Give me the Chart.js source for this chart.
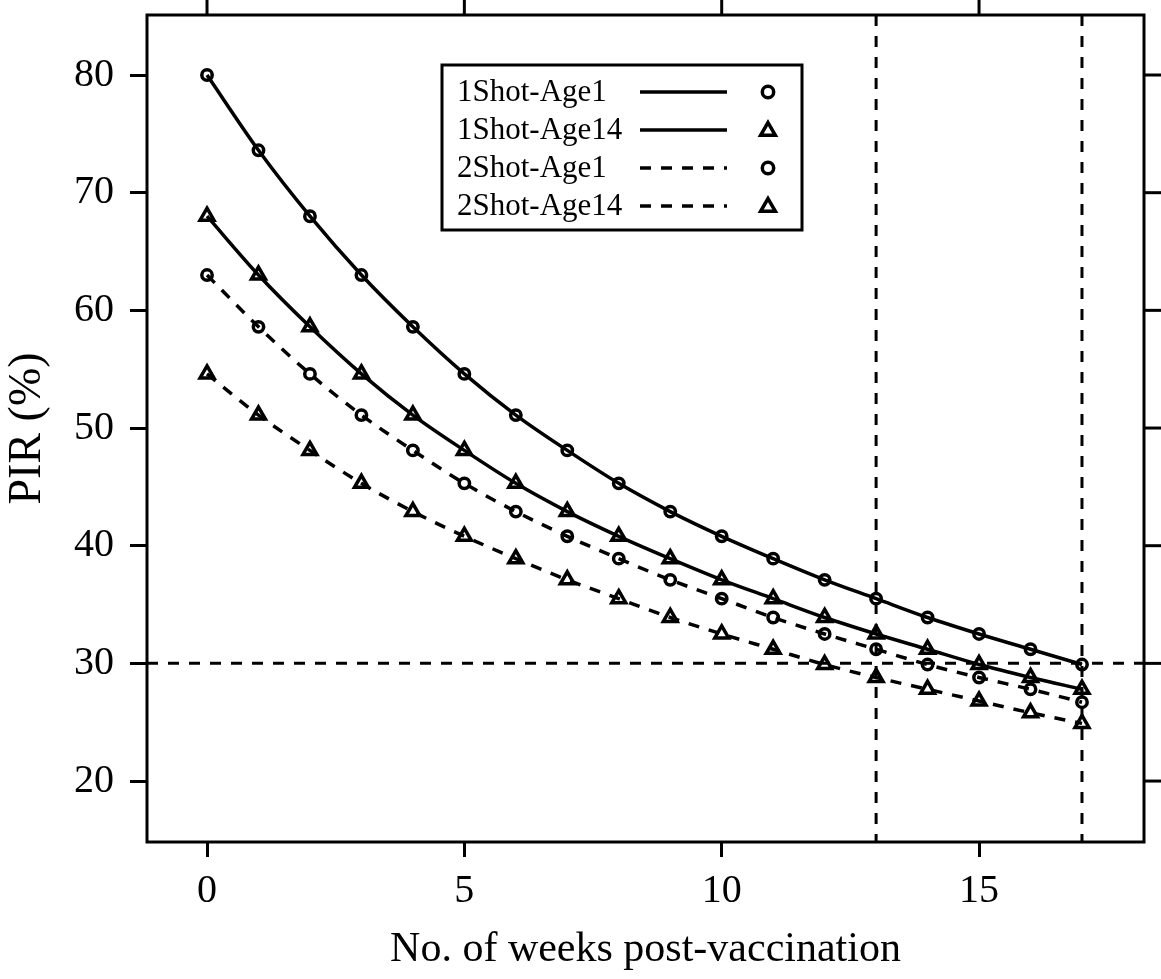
<!DOCTYPE html>
<html>
<head>
<meta charset="utf-8">
<script src="https://cdn.jsdelivr.net/npm/chart.js"></script>
<style>
  html, body { margin: 0; padding: 0; background: #fff; }
  #wrap { width: 1161px; height: 979px; }
</style>
</head>
<body>
<div id="wrap"><canvas id="pirChart"></canvas></div>
<script>
const weeks = [0, 1, 2, 3, 4, 5, 6, 7, 8, 9, 10, 11, 12, 13, 14, 15, 16, 17];

const oneShotAge1 = [80.0, 73.6, 68.0, 63.0, 58.6, 54.6, 51.1, 48.1, 45.3, 42.9, 40.8, 38.9, 37.1, 35.5, 33.9, 32.5, 31.2, 29.9];
const oneShotAge14 = [68.0, 63.0, 58.6, 54.6, 51.1, 48.1, 45.3, 42.9, 40.8, 38.9, 37.1, 35.5, 33.9, 32.5, 31.2, 29.9, 28.8, 27.8];
const twoShotAge1 = [63.0, 58.6, 54.6, 51.1, 48.1, 45.3, 42.9, 40.8, 38.9, 37.1, 35.5, 33.9, 32.5, 31.2, 29.9, 28.8, 27.8, 26.7];
const twoShotAge14 = [54.6, 51.1, 48.1, 45.3, 42.9, 40.8, 38.9, 37.1, 35.5, 33.9, 32.5, 31.2, 29.9, 28.8, 27.8, 26.8, 25.8, 24.9];

const xTicks = [0, 5, 10, 15];
const yTicks = [20, 30, 40, 50, 60, 70, 80];

// dashed reference lines
const refY = [30];
const refX = [13, 17];

const FONT = "'Liberation Serif', 'DejaVu Serif', serif";
const DASH = [11, 10];
const LW = 3;
const CURVE_LW = 3.5;
const CIRCLE_R = 5.2;
const TRI_R = 8;

Chart.defaults.font.family = FONT;
Chart.defaults.color = "#000";

function toPoints(values) {
  return weeks.map((w, i) => ({ x: w, y: values[i] }));
}

function series(label, values, pointStyle, dashed) {
  return {
    label: label,
    data: toPoints(values),
    borderColor: "#000",
    borderWidth: CURVE_LW,
    borderDash: dashed ? DASH : [],
    cubicInterpolationMode: "monotone",
    pointStyle: pointStyle,
    pointRadius: pointStyle === "triangle" ? TRI_R : CIRCLE_R,
    pointBorderWidth: CURVE_LW,
    pointBorderColor: "#000",
    pointBackgroundColor: "rgba(0,0,0,0)",
    fill: false,
  };
}

const datasets = [
  series("1Shot-Age1", oneShotAge1, "circle", false),
  series("1Shot-Age14", oneShotAge14, "triangle", false),
  series("2Shot-Age1", twoShotAge1, "circle", true),
  series("2Shot-Age14", twoShotAge14, "triangle", true),
];

function drawMarker(ctx, style, x, y) {
  ctx.beginPath();
  if (style === "circle") {
    ctx.arc(x, y, CIRCLE_R + 0.5, 0, Math.PI * 2);
  } else {
    const r = TRI_R + 0.5;
    ctx.moveTo(x, y - r);
    ctx.lineTo(x + r * Math.sin(2 * Math.PI / 3), y - r * Math.cos(2 * Math.PI / 3));
    ctx.lineTo(x + r * Math.sin(4 * Math.PI / 3), y - r * Math.cos(4 * Math.PI / 3));
    ctx.closePath();
  }
  ctx.stroke();
}

const latticeFrame = {
  id: "latticeFrame",
  beforeDatasetsDraw(chart) {
    const { ctx, chartArea: a, scales } = chart;
    ctx.save();
    ctx.beginPath();
    ctx.rect(a.left, a.top, a.right - a.left, a.bottom - a.top);
    ctx.clip();
    ctx.strokeStyle = "#000";
    ctx.lineWidth = LW;
    ctx.setLineDash(DASH);
    refY.forEach((v) => {
      const py = scales.y.getPixelForValue(v);
      ctx.beginPath();
      ctx.moveTo(a.left, py);
      ctx.lineTo(a.right, py);
      ctx.stroke();
    });
    refX.forEach((v) => {
      const px = scales.x.getPixelForValue(v);
      ctx.beginPath();
      ctx.moveTo(px, a.top);
      ctx.lineTo(px, a.bottom);
      ctx.stroke();
    });
    ctx.restore();
  },
  afterDraw(chart) {
    const { ctx, chartArea: a, scales } = chart;
    ctx.save();
    ctx.strokeStyle = "#000";
    ctx.lineWidth = LW;
    ctx.setLineDash([]);
    ctx.strokeRect(a.left, a.top, a.right - a.left, a.bottom - a.top);

    // ticks on the top and right sides
    xTicks.forEach((v) => {
      const px = scales.x.getPixelForValue(v);
      ctx.beginPath();
      ctx.moveTo(px, a.top);
      ctx.lineTo(px, a.top - 16);
      ctx.stroke();
    });
    yTicks.forEach((v) => {
      const py = scales.y.getPixelForValue(v);
      ctx.beginPath();
      ctx.moveTo(a.right, py);
      ctx.lineTo(a.right + 17, py);
      ctx.stroke();
    });

    // legend box
    const bx = a.left + 295, by = a.top + 50, bw = 360, bh = 165;
    ctx.fillStyle = "#fff";
    ctx.fillRect(bx, by, bw, bh);
    ctx.strokeRect(bx, by, bw, bh);
    ctx.font = "31px " + FONT;
    ctx.fillStyle = "#000";
    ctx.textBaseline = "middle";
    ctx.textAlign = "left";
    chart.data.datasets.forEach((ds, i) => {
      const ry = by + 27 + i * 38;
      ctx.fillText(ds.label, bx + 15, ry + 1);
      ctx.lineWidth = CURVE_LW;
      ctx.setLineDash(ds.borderDash);
      ctx.beginPath();
      ctx.moveTo(bx + 198, ry);
      ctx.lineTo(bx + 285, ry);
      ctx.stroke();
      ctx.setLineDash([]);
      drawMarker(ctx, ds.pointStyle, bx + 326, ry + (ds.pointStyle === "triangle" ? 1 : 0));
    });
    ctx.restore();
  },
};

const config = {
  type: "line",
  data: { datasets: datasets },
  options: {
    responsive: true,
    maintainAspectRatio: false,
    animation: false,
    layout: { padding: { top: 15, right: 17, left: 0, bottom: 0 } },
    plugins: {
      legend: { display: false },
      tooltip: { enabled: false },
    },
    scales: {
      x: {
        type: "linear",
        min: -1.166,
        max: 18.205,
        afterBuildTicks: (scale) => {
          scale.ticks = xTicks.map((v) => ({ value: v }));
        },
        afterFit: (scale) => {
          scale.height = 137;
          scale.paddingLeft = 0;
          scale.paddingRight = 0;
        },
        grid: {
          drawOnChartArea: false,
          drawTicks: true,
          tickLength: 15,
          color: "#000",
          lineWidth: LW,
        },
        border: { display: false },
        ticks: {
          font: { size: 40 },
          color: "#000",
          padding: 10,
          maxRotation: 0,
        },
        title: {
          display: true,
          text: "No. of weeks post-vaccination",
          font: { size: 42 },
          color: "#000",
          padding: { top: 0, bottom: 4 },
        },
      },
      y: {
        type: "linear",
        min: 14.82,
        max: 85.1,
        afterBuildTicks: (scale) => {
          scale.ticks = yTicks.map((v) => ({ value: v }));
        },
        afterFit: (scale) => {
          scale.width = 147;
          scale.paddingTop = 0;
          scale.paddingBottom = 0;
        },
        grid: {
          drawOnChartArea: false,
          drawTicks: true,
          tickLength: 17,
          color: "#000",
          lineWidth: LW,
        },
        border: { display: false },
        ticks: {
          font: { size: 40 },
          color: "#000",
          padding: 16,
        },
        title: {
          display: true,
          text: "PIR (%)",
          font: { size: 46 },
          color: "#000",
          padding: { top: 0, bottom: 0 },
        },
      },
    },
  },
  plugins: [latticeFrame],
};

const pirChart = new Chart(document.getElementById("pirChart").getContext("2d"), config);
</script>
</body>
</html>
